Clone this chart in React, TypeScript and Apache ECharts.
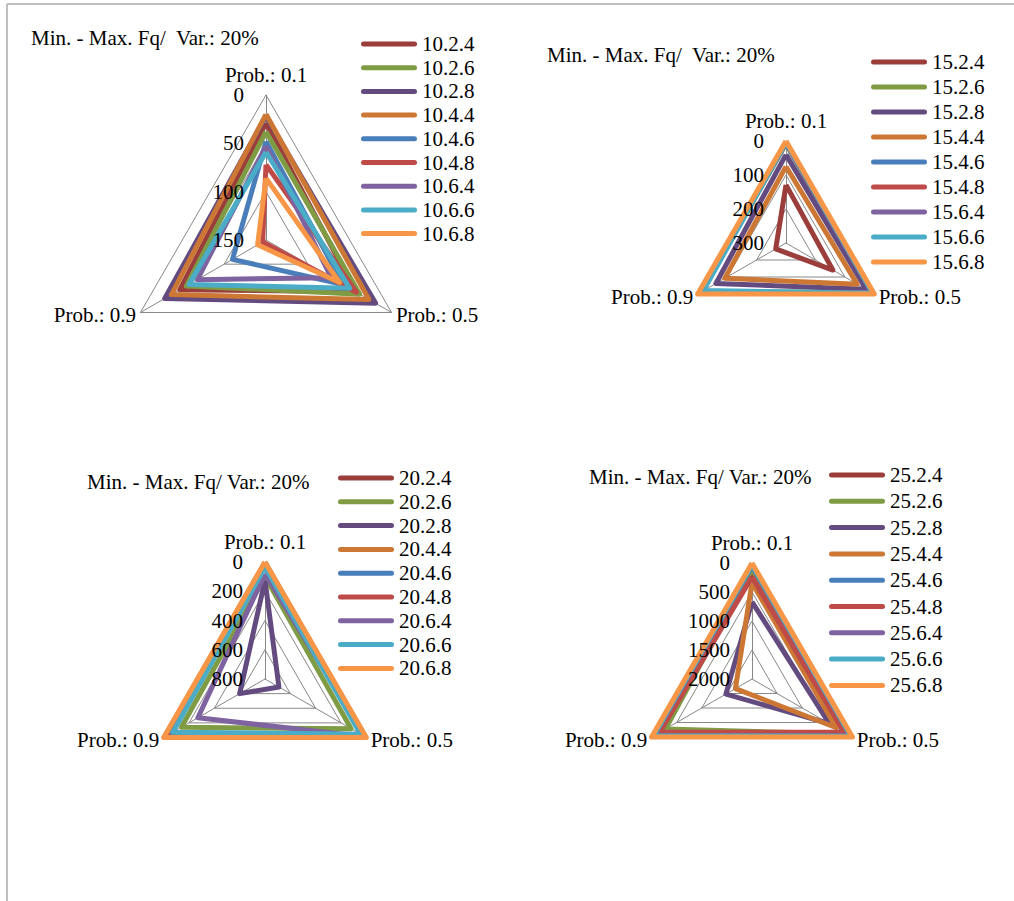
import React, { useEffect, useRef } from 'react';
import * as echarts from 'echarts';

// Axis categories (Excel order: clockwise from top)
const probLabels = ['Prob.: 0.1', 'Prob.: 0.5', 'Prob.: 0.9'];

const chartTitles = [
  'Min. - Max. Fq/  Var.: 20%',
  'Min. - Max. Fq/  Var.: 20%',
  'Min. - Max. Fq/ Var.: 20%',
  'Min. - Max. Fq/ Var.: 20%',
];

const seriesColors = ['#9B3D3A', '#7F9C45', '#634B80', '#CC7734', '#4A7EBB', '#BE4B48', '#7F63A0', '#4AACC6', '#F79646'];

// Reversed value axis: 0 at the outer edge, max at the centre
const axisMax = [150, 300, 800, 2000];
const axisSplits = [3, 3, 4, 4];

const names10 = ['10.2.4', '10.2.6', '10.2.8', '10.4.4', '10.4.6', '10.4.8', '10.6.4', '10.6.6', '10.6.8'];
// values: [Prob 0.1, Prob 0.5, Prob 0.9]
const values10 = [
  [29, 43, 47],
  [38, 38, 55],
  [22, 19, 29],
  [20, 27, 37],
  [48, 58, 110],
  [72, 42, 146],
  [53, 72, 68],
  [59, 50, 58],
  [86, 62, 140],
];

const names15 = ['15.2.4', '15.2.6', '15.2.8', '15.4.4', '15.4.6', '15.4.8', '15.6.4', '15.6.6', '15.6.8'];
const values15 = [
  [129, 141, 265],
  [8, 12, 12],
  [40, 28, 62],
  [75, 58, 92],
  [5, 8, 10],
  [4, 6, 8],
  [6, 7, 9],
  [3, 5, 20],
  [0, 0, 0],
];

const names20 = ['20.2.4', '20.2.6', '20.2.8', '20.4.4', '20.4.6', '20.4.8', '20.6.4', '20.6.6', '20.6.8'];
const values20 = [
  [5, 10, 10],
  [100, 120, 140],
  [125, 690, 600],
  [5, 5, 5],
  [30, 40, 60],
  [5, 8, 8],
  [80, 10, 270],
  [35, 45, 72],
  [0, 0, 0],
];

const names25 = ['25.2.4', '25.2.6', '25.2.8', '25.4.4', '25.4.6', '25.4.8', '25.6.4', '25.6.6', '25.6.8'];
const values25 = [
  [200, 150, 150],
  [100, 100, 280],
  [670, 460, 1480],
  [340, 320, 1670],
  [50, 50, 60],
  [240, 170, 160],
  [40, 40, 50],
  [30, 30, 40],
  [0, 0, 0],
];

const allNames = [names10, names15, names20, names25];
const allValues = [values10, values15, values20, values25];

// layout
const radarCenters = [[266, 240], [786, 243], [265, 679], [752, 679]];
const radarRadii = [145, 102, 117, 116];
const titlePos = [[31, 27.5], [547, 44.5], [87, 471.5], [589, 466.5]];
const legendPos = [[361, 33.5], [871, 51.5], [338, 467.5], [829, 464.5]];
const legendGaps = [2.7, 4, 2.8, 5.3];

// ECharts lays indicators out counter-clockwise: top, bottom-left, bottom-right
const ecOrder = [0, 2, 1];

const FONT = "'Times New Roman', 'Liberation Serif', serif";
const FS = 21;

export default function App() {
  const ref = useRef<HTMLDivElement>(null);
  useEffect(() => {
    if (!ref.current) return;
    const chart = echarts.init(ref.current, null, { renderer: 'svg' });
    const textBase = { fontFamily: FONT, fontSize: FS, color: '#000', fontWeight: 'normal' as const };

    // grid radars (under the series)
    const gridRadars = [0, 1, 2, 3].map((i) => ({
      center: radarCenters[i],
      radius: radarRadii[i],
      startAngle: 90,
      shape: 'polygon',
      splitNumber: axisSplits[i],
      axisNameGap: 5,
      axisName: { ...textBase },
      indicator: ecOrder.map((j, k) => {
        const ind: any = { name: probLabels[j], min: 0, max: axisMax[i] };
        if (k === 0) ind.nameGap = 10;
        return ind;
      }),
      axisLine: { lineStyle: { color: '#888888', width: 1 } },
      splitLine: { lineStyle: { color: '#888888', width: 1 } },
      splitArea: { show: false },
      axisTick: { show: false },
      axisLabel: { show: false },
      z: 0,
    }));

    // label radars (same geometry, only tick labels, above the series)
    const labelRadars = [0, 1, 2, 3].map((i) => {
      const M = axisMax[i];
      return {
        center: radarCenters[i],
        radius: radarRadii[i],
        startAngle: 90,
        shape: 'polygon',
        splitNumber: axisSplits[i],
        axisName: { show: false },
        indicator: ecOrder.map((j, k) => {
          const ind: any = { name: '', min: 0, max: M };
          if (k === 0) {
            ind.axisLabel = {
              show: true,
              margin: 22,
              ...textBase,
              formatter: (v: number) => String(Math.round(M - v)),
            };
          }
          return ind;
        }),
        axisLine: { show: false },
        splitLine: { show: false },
        splitArea: { show: false },
        axisTick: { show: false },
        axisLabel: { show: false },
        z: 10,
      };
    });

    const series = [0, 1, 2, 3].map((i) => ({
      type: 'radar',
      radarIndex: i,
      symbol: 'none',
      silent: true,
      z: 2,
      data: allNames[i].map((n, k) => ({
        name: n,
        value: ecOrder.map((j) => axisMax[i] - allValues[i][k][j]),
        lineStyle: { color: seriesColors[k], width: 5, join: 'round' },
        itemStyle: { color: seriesColors[k] },
      })),
    }));

    const legends = [0, 1, 2, 3].map((i) => ({
      data: allNames[i],
      orient: 'vertical',
      left: legendPos[i][0],
      top: legendPos[i][1],
      padding: 0,
      itemGap: legendGaps[i],
      itemWidth: 56,
      itemHeight: 5,
      icon: 'path://M2.5,0 L53.5,0 A2.5,2.5 0 0 1 53.5,5 L2.5,5 A2.5,2.5 0 0 1 2.5,0 Z',
      selectedMode: false,
      textStyle: { ...textBase },
    }));

    const titles = [0, 1, 2, 3].map((i) => ({
      text: chartTitles[i],
      left: titlePos[i][0],
      top: titlePos[i][1],
      padding: 0,
      textStyle: { ...textBase },
    }));

    chart.setOption({
      animation: false,
      backgroundColor: '#fff',
      title: titles,
      legend: legends,
      radar: [...gridRadars, ...labelRadars],
      series,
      graphic: [
        { type: 'line', shape: { x1: 7, y1: 4, x2: 1014, y2: 4 }, style: { stroke: '#BFBFBF', lineWidth: 2 } },
        { type: 'line', shape: { x1: 7, y1: 4, x2: 7, y2: 901 }, style: { stroke: '#BFBFBF', lineWidth: 2 } },
      ],
    });
    return () => chart.dispose();
  }, []);
  return <div ref={ref} style={{ position: 'absolute', left: 0, top: 0, width: 1014, height: 901 }} />;
}
